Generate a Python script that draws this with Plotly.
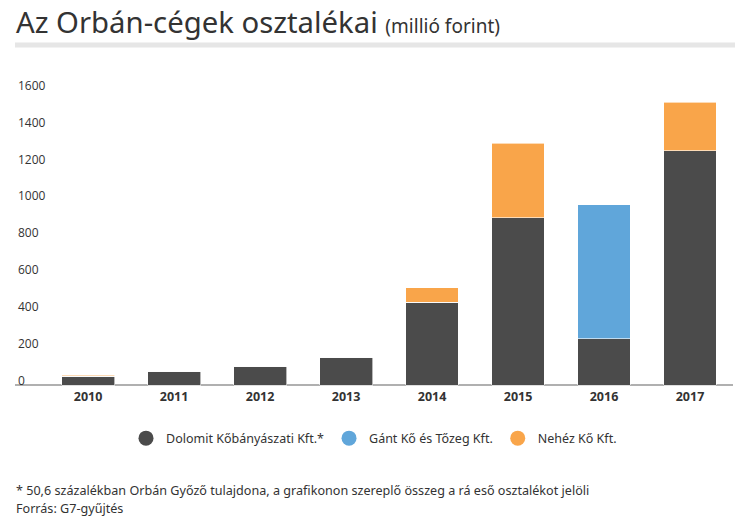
import plotly.graph_objects as go

# Adatok (millió forint)
years = ['2010', '2011', '2012', '2013', '2014', '2015', '2016', '2017']
dolomit = [50, 78, 105, 154, 451, 909, 252, 1273]
gant = [0, 0, 0, 0, 0, 0, 728, 0]
nehez = [5, 0, 0, 0, 78, 405, 0, 265]

names = ['Dolomit Kőbányászati Kft.*', 'Gánt Kő és Tőzeg Kft.', 'Nehéz Kő Kft.']
colors = ['#4b4b4b', '#60a6da', '#f9a54a']
y_ticks = [0, 200, 400, 600, 800, 1000, 1200, 1400, 1600]

fig = go.Figure()

# Oszlopok (halmozva)
for name, vals, col in zip(names, [dolomit, gant, nehez], colors):
    fig.add_trace(go.Bar(
        x=years, y=vals, name=name,
        marker=dict(color=col, line=dict(color='#ffffff', width=0.6)),
        showlegend=False
    ))

# Jelmagyarázat kör alakú jelekkel
for name, col in zip(names, colors):
    fig.add_trace(go.Scatter(
        x=[None], y=[None], mode='markers', name=name,
        marker=dict(color=col, size=15, symbol='circle')
    ))

fig.update_layout(
    barmode='stack',
    bargap=0.385,
    width=735, height=510,
    margin=dict(l=7, r=10, t=68, b=128),
    paper_bgcolor='white',
    plot_bgcolor='white',
    font=dict(family='Open Sans', color='#333333'),
    xaxis=dict(
        type='category',
        range=[-0.85, 7.5],
        showline=False, ticks='', showgrid=False,
        ticklabelstandoff=-3,
        tickfont=dict(family='Open Sans', size=12.5, color='#333333', weight='bold'),
    ),
    yaxis=dict(
        range=[-25, 1680],
        tickvals=y_ticks,
        showgrid=False, showline=False,
        zeroline=True, zerolinecolor='#b0b0b0', zerolinewidth=1.5,
        ticklabelposition='inside',
        ticklabelshift=-5,
        tickfont=dict(family='Open Sans', size=12, color='#333333'),
    ),
    legend=dict(
        orientation='h',
        traceorder='normal',
        x=0.5, xanchor='center',
        y=-0.1545, yanchor='middle',
        font=dict(family='Noto Sans', size=12.5, color='#333333'),
        itemclick=False,
    ),
    shapes=[dict(
        type='rect', xref='paper', yref='paper',
        x0=0, x1=1.02, y0=1.091, y1=1.107,
        fillcolor='#e6e6e6', line=dict(width=0), layer='below'
    )],
    annotations=[
        dict(
            text='Az Orbán-cégek osztalékai <span style="font-size:19px">(millió forint)</span>',
            xref='paper', yref='paper', x=-0.001, y=1.173,
            xanchor='left', yanchor='middle', showarrow=False,
            font=dict(family='Noto Sans', size=29.3, color='#333333')
        ),
        dict(
            text='* 50,6 százalékban Orbán Győző tulajdona, a grafikonon szereplő összeg a rá eső osztalékot jelöli',
            xref='paper', yref='paper', x=-0.001, y=-0.3205,
            xanchor='left', yanchor='middle', showarrow=False,
            font=dict(family='Noto Sans', size=12.6, color='#333333')
        ),
        dict(
            text='Forrás: G7-gyűjtés',
            xref='paper', yref='paper', x=-0.001, y=-0.378,
            xanchor='left', yanchor='middle', showarrow=False,
            font=dict(family='Noto Sans', size=12.6, color='#333333')
        ),
    ]
)

fig.write_html('out.html')
